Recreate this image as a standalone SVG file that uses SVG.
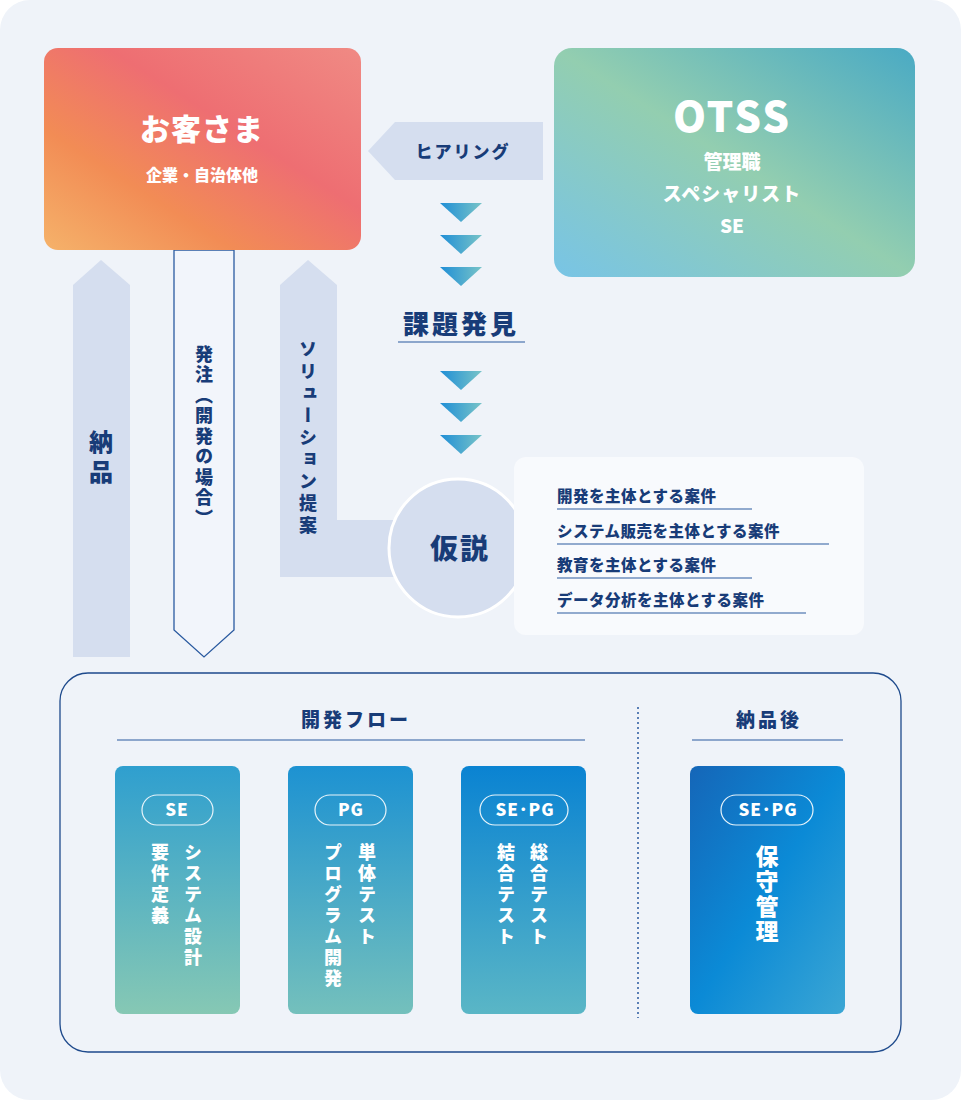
<svg xmlns="http://www.w3.org/2000/svg" width="961" height="1100" viewBox="0 0 961 1100">
<defs>
<linearGradient id="gCust" x1="0" y1="1" x2="1" y2="0"><stop offset="0" stop-color="#f5b26a"/><stop offset="0.3" stop-color="#f28c55"/><stop offset="0.6" stop-color="#ee6e72"/><stop offset="1" stop-color="#f08a84"/></linearGradient>
<linearGradient id="gOtss" x1="0" y1="1" x2="1" y2="0"><stop offset="0" stop-color="#78c4e6"/><stop offset="0.5" stop-color="#93ceb0"/><stop offset="1" stop-color="#4aaac4"/></linearGradient>
<linearGradient id="gTri" x1="0" y1="0" x2="1" y2="0"><stop offset="0" stop-color="#1f8ed6"/><stop offset="1" stop-color="#78c4c8"/></linearGradient>
<linearGradient id="gCard1" x1="0" y1="0" x2="0" y2="1"><stop offset="0" stop-color="#2f9fcf"/><stop offset="1" stop-color="#86c8b4"/></linearGradient>
<linearGradient id="gCard2" x1="0" y1="0" x2="0" y2="1"><stop offset="0" stop-color="#1d92d2"/><stop offset="1" stop-color="#74c0bc"/></linearGradient>
<linearGradient id="gCard3" x1="0" y1="0" x2="0" y2="1"><stop offset="0" stop-color="#0a83d2"/><stop offset="1" stop-color="#5ab6c6"/></linearGradient>
<linearGradient id="gCard4" x1="0" y1="0" x2="1" y2="1"><stop offset="0" stop-color="#1566b8"/><stop offset="0.5" stop-color="#0b8ad6"/><stop offset="1" stop-color="#3ba6d4"/></linearGradient>
<linearGradient id="gChev" x1="0" y1="0" x2="1" y2="1"><stop offset="0" stop-color="#7cc4c8"/><stop offset="1" stop-color="#1c8ad4"/></linearGradient>
<style>
text{font-family:"Noto Sans CJK JP","Noto Sans",sans-serif;font-weight:900}
.navy{fill:#183c78}
.w{fill:#fff}
.v{writing-mode:vertical-rl;glyph-orientation-vertical:0}
.band{fill:#d5deef}
.pill{fill:none;stroke:#e8f4fa;stroke-width:1.2}
.ul{stroke:#2a5aa0;stroke-width:1.2}
</style>
</defs>
<rect x="0" y="0" width="961" height="1100" rx="30" fill="#eff3f9"/>

<g id="connectors">
<polygon class="band" points="368,151 395,122 543,122 543,180 395,180"/>
<g fill="url(#gTri)">
<polygon points="440,203 482,203 461,222"/><polygon points="440,235 482,235 461,254"/><polygon points="440,267 482,267 461,286"/>
<polygon points="440,371 482,371 461,390"/><polygon points="440,403 482,403 461,422"/><polygon points="440,435 482,435 461,454"/>
</g>
<polygon class="band" points="73,285 101,260 130,285 130,657 73,657"/>
<polygon class="band" points="280,285 308,260 337,285 337,520 400,520 400,577 280,577"/>
<polygon points="174,250 174,630 204,657 234,630 234,250" fill="#f2f5fb" stroke="#2a5aa0" stroke-width="1.3"/>
<g fill="url(#gChev)">
<polygon points="254,850 274,870 254,890"/><polygon points="427,850 447,870 427,890"/>
<polygon points="603,850 623,870 603,890"/><polygon points="628,850 648,870 628,890"/><polygon points="652,850 672,870 652,890"/>
</g>
</g>

<text class="navy" x="463" y="158" font-size="17" text-anchor="middle" letter-spacing="2">ヒアリング</text>
<text class="navy v" x="101" y="430" font-size="24" letter-spacing="6">納品</text>
<text class="navy v" x="204" y="345" font-size="18" letter-spacing="2.5">発注（開発の場合）</text>
<text class="navy v" x="308" y="340" font-size="18" letter-spacing="4">ソリューション提案</text>

<g id="customer">
<rect x="44" y="48" width="317" height="202" rx="14" fill="url(#gCust)"/>
<text class="w" x="202" y="140" font-size="30" text-anchor="middle" letter-spacing="1">お客さま</text>
<text class="w" x="202" y="181" font-size="16" text-anchor="middle">企業・自治体他</text>
</g>
<g id="otss">
<rect x="554" y="48" width="361" height="229" rx="18" fill="url(#gOtss)"/>
<text class="w" x="732" y="132" font-size="42" text-anchor="middle" font-family="Roboto" letter-spacing="2">OTSS</text>
<text class="w" x="732" y="169" font-size="19" text-anchor="middle">管理職</text>
<text class="w" x="732" y="201" font-size="19" text-anchor="middle" letter-spacing="1">スペシャリスト</text>
<text class="w" x="732" y="233" font-size="19" text-anchor="middle">SE</text>
</g>
<g id="kadai">
<text class="navy" x="461" y="334" font-size="26" text-anchor="middle" letter-spacing="3">課題発見</text>
<line class="ul" x1="398" y1="342" x2="525" y2="342"/>
</g>
<g id="kasetsu">
<circle cx="458" cy="548" r="69" fill="#d5deef" stroke="#fff" stroke-width="3"/>
<text class="navy" x="460" y="559" font-size="28" text-anchor="middle" letter-spacing="2">仮説</text>
</g>
<g id="hypotheses">
<rect x="514" y="457" width="350" height="178" rx="12" fill="#f8fafd"/>
<text class="navy" x="557" y="502" font-size="15.5" letter-spacing="0.5">開発を主体とする案件</text>
<line class="ul" x1="557" y1="509" x2="752" y2="509"/>
<text class="navy" x="557" y="537" font-size="15.5" letter-spacing="0.5">システム販売を主体とする案件</text>
<line class="ul" x1="557" y1="544" x2="829" y2="544"/>
<text class="navy" x="557" y="571" font-size="15.5" letter-spacing="0.5">教育を主体とする案件</text>
<line class="ul" x1="557" y1="578" x2="752" y2="578"/>
<text class="navy" x="557" y="606" font-size="15.5" letter-spacing="0.5">データ分析を主体とする案件</text>
<line class="ul" x1="557" y1="613" x2="806" y2="613"/>
</g>

<g id="flow-panel">
<rect x="60" y="673" width="841" height="379" rx="28" fill="#eff3f9" stroke="#1e4a8c" stroke-width="1.3"/>
<text class="navy" x="356" y="727" font-size="19" text-anchor="middle" letter-spacing="3">開発フロー</text>
<line class="ul" x1="117" y1="740" x2="585" y2="740"/>
<text class="navy" x="769" y="727" font-size="19" text-anchor="middle" letter-spacing="3">納品後</text>
<line class="ul" x1="692" y1="740" x2="843" y2="740"/>
<line x1="638" y1="707" x2="638" y2="1018" stroke="#2a5aa0" stroke-width="1.5" stroke-dasharray="2,3"/>
</g>
<g id="card-se">
<rect x="115" y="766" width="125" height="248" rx="8" fill="url(#gCard1)"/>
<rect class="pill" x="142" y="795" width="71" height="30" rx="15"/>
<text class="w" x="177" y="816" font-size="17" text-anchor="middle" font-family="Roboto" letter-spacing="1">SE</text>
<text class="w v" x="193" y="843" font-size="18" letter-spacing="3">システム設計</text>
<text class="w v" x="160" y="843" font-size="18" letter-spacing="3">要件定義</text>
</g>
<g id="card-pg">
<rect x="288" y="766" width="125" height="248" rx="8" fill="url(#gCard2)"/>
<rect class="pill" x="315" y="795" width="71" height="30" rx="15"/>
<text class="w" x="351" y="816" font-size="17" text-anchor="middle" font-family="Roboto" letter-spacing="1">PG</text>
<text class="w v" x="367" y="843" font-size="18" letter-spacing="3">単体テスト</text>
<text class="w v" x="333" y="843" font-size="18" letter-spacing="3">プログラム開発</text>
</g>
<g id="card-sepg">
<rect x="461" y="766" width="125" height="248" rx="8" fill="url(#gCard3)"/>
<rect class="pill" x="480" y="795" width="88" height="30" rx="15"/>
<text class="w" x="525" y="816" font-size="17" text-anchor="middle" font-family="Roboto" letter-spacing="1">SE･PG</text>
<text class="w v" x="539" y="843" font-size="18" letter-spacing="3">総合テスト</text>
<text class="w v" x="506" y="843" font-size="18" letter-spacing="3">結合テスト</text>
</g>
<g id="card-maint">
<rect x="690" y="766" width="155" height="248" rx="8" fill="url(#gCard4)"/>
<rect class="pill" x="721" y="795" width="92" height="30" rx="15"/>
<text class="w" x="768" y="816" font-size="17" text-anchor="middle" font-family="Roboto" letter-spacing="1">SE･PG</text>
<text class="w v" x="767" y="845" font-size="23" letter-spacing="2">保守管理</text>
</g>
</svg>
